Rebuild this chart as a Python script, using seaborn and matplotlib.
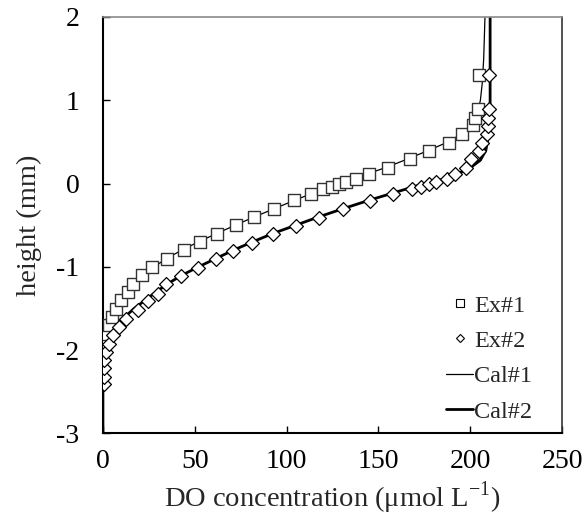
import matplotlib
matplotlib.use("Agg")
import matplotlib.pyplot as plt
import seaborn as sns
import pandas as pd
from matplotlib.lines import Line2D

# Experimental data (Ex#1: squares, Ex#2: diamonds)
ex1_do = [0.2, 1.1, 2.3, 3.3, 4.7, 6.9, 9.8, 13.5, 16.5, 21.1, 26.9, 35.0, 44.1, 52.8,
          61.9, 72.3, 82.4, 93.3, 104.2, 113.1, 120.0, 124.6, 128.7, 132.4, 137.8,
          145.0, 155.1, 167.2, 177.7, 188.6, 195.4, 201.7, 202.6, 204.2, 205.0]
ex1_h = [-2.0, -1.9, -1.8, -1.7, -1.6, -1.5, -1.4, -1.3, -1.2, -1.1, -1.0, -0.9, -0.8, -0.7,
         -0.6, -0.5, -0.4, -0.3, -0.2, -0.13, -0.07, -0.04, -0.01, 0.02, 0.055,
         0.11, 0.19, 0.29, 0.39, 0.49, 0.59, 0.70, 0.79, 0.90, 1.30]

ex2_do = [0.5, 0.5, 0.5, 0.7, 1.6, 3.4, 5.6, 8.7, 12.4, 18.9, 24.3, 29.8, 34.5, 42.4,
          51.6, 61.4, 71.0, 81.3, 92.4, 105.1, 117.6, 130.9, 145.4, 158.1, 168.5,
          173.0, 177.6, 181.2, 187.2, 191.7, 197.5, 200.4, 205.0, 206.4, 208.9,
          209.5, 209.8, 210.4, 210.4]
ex2_h = [-2.41, -2.32, -2.22, -2.12, -2.02, -1.92, -1.82, -1.72, -1.62, -1.52, -1.41, -1.32,
         -1.21, -1.11, -1.01, -0.91, -0.81, -0.71, -0.61, -0.51, -0.41, -0.31, -0.21,
         -0.13, -0.07, -0.04, -0.01, 0.02, 0.05, 0.11, 0.19, 0.29, 0.39, 0.49, 0.59,
         0.69, 0.79, 0.90, 1.30]

# Calculated profiles
cal1_do = [0, 0, 0.8, 2.2, 3.8, 5.5, 7.5, 9.8, 12.5, 15.5, 19, 23, 28, 34.5, 43, 52, 62,
           72, 82.5, 93.5, 104.5, 116, 129, 142, 155, 166.5, 177.5, 188, 195.5, 200.5,
           203, 204.5, 205.5, 206.5, 207.3, 208]
cal1_h = [-3, -2.15, -2.0, -1.9, -1.8, -1.7, -1.6, -1.5, -1.4, -1.3, -1.2, -1.1, -1.0, -0.9,
          -0.8, -0.7, -0.6, -0.5, -0.4, -0.3, -0.2, -0.1, 0.0, 0.1, 0.2, 0.3, 0.4, 0.5,
          0.6, 0.7, 0.8, 0.9, 1.0, 1.2, 1.5, 2.0]

cal2_do = [0, 0, 0.8, 2, 3.5, 5.5, 8.5, 12, 17, 23, 29, 35.5, 43, 52, 61.5, 71, 81.5, 92.5,
           105, 117.5, 131, 145, 160, 175, 185, 191, 199.5, 205.5, 208.5, 210, 210.8, 210.8]
cal2_h = [-3, -2.25, -2.1, -2.0, -1.9, -1.8, -1.7, -1.6, -1.5, -1.4, -1.3, -1.2, -1.1, -1.0,
          -0.9, -0.8, -0.7, -0.6, -0.5, -0.4, -0.3, -0.2, -0.1, 0.0, 0.05, 0.1, 0.18, 0.28,
          0.4, 0.6, 0.8, 2.0]

x_ticks = [0, 50, 100, 150, 200, 250]
y_ticks = [-3, -2, -1, 0, 1, 2]
legend_labels = ["Ex#1", "Ex#2", "Cal#1", "Cal#2"]

sns.set_style("ticks")
plt.rcParams['font.family'] = ['Liberation Serif', 'DejaVu Serif']
plt.rcParams['mathtext.fontset'] = 'custom'
plt.rcParams['mathtext.rm'] = 'Liberation Serif'
plt.rcParams['axes.unicode_minus'] = False

fig = plt.figure(figsize=(5.88, 5.28), dpi=100)
ax = fig.add_axes([0.175, 0.179, 0.781, 0.789])

df1 = pd.DataFrame({"do": ex1_do, "h": ex1_h})
df2 = pd.DataFrame({"do": ex2_do, "h": ex2_h})
dc1 = pd.DataFrame({"do": cal1_do, "h": cal1_h})
dc2 = pd.DataFrame({"do": cal2_do, "h": cal2_h})

sns.lineplot(data=dc1, x="do", y="h", sort=False, estimator=None, color="black",
             linewidth=0.9, ax=ax, zorder=2)
sns.lineplot(data=dc2, x="do", y="h", sort=False, estimator=None, color="black",
             linewidth=2.0, ax=ax, zorder=2)
sns.scatterplot(data=df1, x="do", y="h", marker="s", s=80, facecolor="white",
                edgecolor="#333333", linewidth=1.0, ax=ax, zorder=3)
sns.scatterplot(data=df2, x="do", y="h", marker="D", s=50, facecolor="white",
                edgecolor="black", linewidth=0.9, ax=ax, zorder=3)

ax.set_xlim(0, 250)
ax.set_ylim(-3, 2)
ax.set_xticks(x_ticks)
ax.set_yticks(y_ticks)
ax.set_xticklabels([str(v) for v in x_ticks])
ax.set_yticklabels([str(v) for v in y_ticks])
ax.tick_params(direction="in", length=5, width=1, labelsize=20, colors="black",
               top=False, right=False)
ax.tick_params(axis="y", pad=17)
ax.tick_params(axis="x", pad=11)

ax.set_xlabel(r"DO concentration (μmol L$^{\mathregular{-1}}$)", fontsize=20.5, labelpad=4)
ax.set_ylabel("height (mm)", fontsize=20.5, labelpad=10)

for s in ["left", "bottom"]:
    ax.spines[s].set_color("black")
    ax.spines[s].set_linewidth(1.5)
ax.spines["top"].set_color("#8a8a8a")
ax.spines["top"].set_linewidth(1.2)
ax.spines["right"].set_color("#333333")
ax.spines["right"].set_linewidth(1.2)

handles = [
    Line2D([], [], linestyle="none", marker="s", markersize=6, markerfacecolor="white",
           markeredgecolor="black", markeredgewidth=0.8),
    Line2D([], [], linestyle="none", marker="D", markersize=4.5, markerfacecolor="white",
           markeredgecolor="black", markeredgewidth=0.8),
    Line2D([], [], color="black", linewidth=0.9),
    Line2D([], [], color="black", linewidth=2.0),
]
ax.legend(handles, legend_labels, loc="lower right", frameon=False, fontsize=17.5,
          handlelength=1.1, handletextpad=0.05, labelspacing=0.55,
          bbox_to_anchor=(0.972, -0.015), borderaxespad=0.3)

fig.savefig("out.png", dpi=100)
